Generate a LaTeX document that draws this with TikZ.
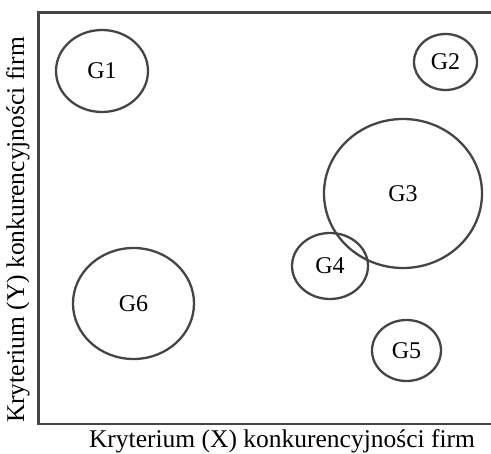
\documentclass[tikz,border=0pt]{standalone}
\usepackage{fontspec}
\setmainfont{Liberation Serif}
\usetikzlibrary{shapes.geometric}
\definecolor{strokegray}{HTML}{454545}
\tikzset{
  group/.style={ellipse, draw=strokegray, line width=2.3pt, inner sep=0pt,
    font=\fontsize{24}{28}\selectfont},
  axislabel/.style={inner sep=0pt, font=\fontsize{25.5}{30}\selectfont}
}
\begin{document}
\begin{tikzpicture}[x=1pt, y=-1pt]
  \useasboundingbox (0,0) rectangle (491,454);
  % chart frame (open to the right)
  \draw[strokegray, line width=2.6pt] (492,12.7) -- (38.5,12.7) -- (38.5,424) -- (492,424);
  % groups of firms
  \node[group, minimum width=92pt, minimum height=82pt] (g1) at (102,71) {G1};
  \node[group, minimum width=63pt, minimum height=56pt] (g2) at (445.5,62) {G2};
  \node[group, minimum width=158pt, minimum height=149pt] (g3) at (403,193.5) {G3};
  \node[group, minimum width=76pt, minimum height=66pt] (g4) at (330,266) {G4};
  \node[group, minimum width=69pt, minimum height=61pt] (g5) at (406.5,350.5) {G5};
  \node[group, minimum width=121pt, minimum height=111pt] (g6) at (133.5,303.5) {G6};
  % axis captions
  \node[axislabel] (xlab) at (282,441) {Kryterium (X) konkurencyjności firm};
  \node[axislabel, rotate=90] (ylab) at (18,230) {Kryterium (Y) konkurencyjności firm};
\end{tikzpicture}
\end{document}
